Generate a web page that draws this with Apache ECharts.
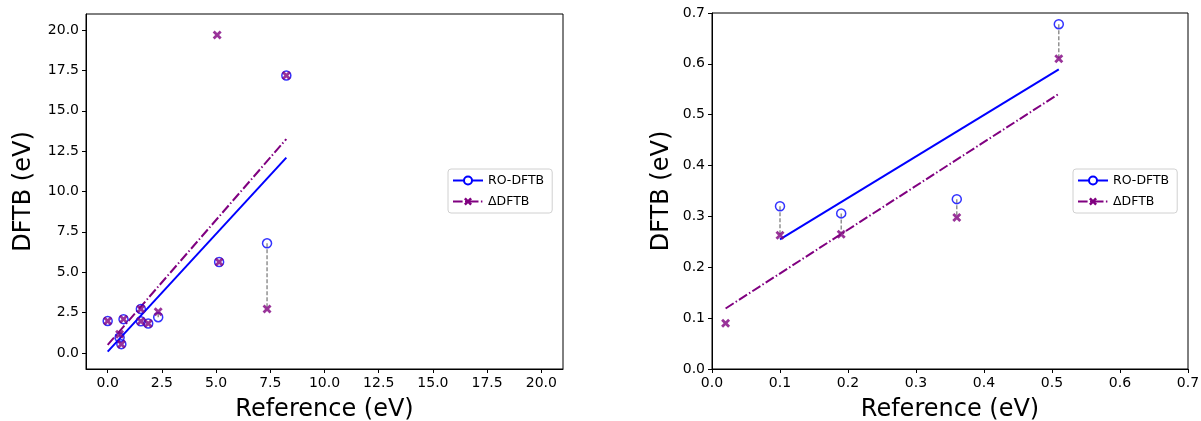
<!DOCTYPE html>
<html>
<head>
<meta charset="utf-8">
<script src="https://cdn.jsdelivr.net/npm/echarts@6/dist/echarts.min.js"></script>
<style>
  html, body { margin: 0; padding: 0; background: #fff; }
  #chart { width: 1201px; height: 421px; }
</style>
</head>
<body>
<div id="chart"></div>
<script>
// left panel: all excitations
const leftRef   = [0.0, 0.55, 0.63, 0.73, 1.53, 1.53, 1.87, 2.33, 5.05, 5.14, 7.35, 8.24];
const leftRO    = [1.98, 0.95, 0.54, 2.09, 2.72, 1.96, 1.82, 2.21, null, 5.63, 6.79, 17.19];
const leftDelta = [1.98, 1.15, 0.54, 2.09, 2.72, 1.96, 1.82, 2.55, 19.7, 5.63, 2.72, 17.19];
const leftFitX      = [0.0, 8.24];
const leftFitRO     = [0.08, 12.1];
const leftFitDelta  = [0.5, 13.25];
const leftTicks = [0, 2.5, 5, 7.5, 10, 12.5, 15, 17.5, 20];

// right panel: low-energy excitations
const rightRef   = [0.02, 0.10, 0.19, 0.36, 0.51];
const rightRO    = [null, 0.32, 0.306, 0.334, 0.678];
const rightDelta = [0.09, 0.263, 0.265, 0.298, 0.610];
const rightFitROX     = [0.10, 0.51];
const rightFitRO      = [0.255, 0.589];
const rightFitDeltaX  = [0.02, 0.51];
const rightFitDelta   = [0.119, 0.541];

const BLUE = '#0000ff';
const PURPLE = '#800080';
const FONT = 'DejaVu Sans';
const crossPath = 'path://M0,2.2L2.2,0L5,2.8L7.8,0L10,2.2L7.2,5L10,7.8L7.8,10L5,7.2L2.2,10L0,7.8L2.8,5Z';
const dashDot = [9.6, 2.4, 1.5, 2.4];

const zip = (xs, ys) => xs.map((x, i) => [x, ys[i]]).filter(p => p[1] !== null);

function panelSeries(idx, ref, ro, delta, roFitX, roFitY, dFitX, dFitY) {
  const out = [];
  // fit lines first so the legend takes its icons from them
  out.push({
    name: 'RO-DFTB', type: 'line', xAxisIndex: idx, yAxisIndex: idx,
    data: zip(roFitX, roFitY), symbol: 'emptyCircle', showSymbol: false, z: 2,
    itemStyle: { color: BLUE }, lineStyle: { color: BLUE, width: 2 }, silent: true
  });
  out.push({
    name: '\u0394DFTB', type: 'line', xAxisIndex: idx, yAxisIndex: idx,
    data: zip(dFitX, dFitY), symbol: crossPath, showSymbol: false, z: 2,
    itemStyle: { color: PURPLE }, lineStyle: { color: PURPLE, width: 2, type: dashDot }, silent: true
  });
  // grey connectors between the two methods
  ref.forEach((x, i) => {
    if (ro[i] === null || Math.abs(ro[i] - delta[i]) < 1e-9) return;
    out.push({
      type: 'line', xAxisIndex: idx, yAxisIndex: idx, symbol: 'none', silent: true, z: 1,
      data: [[x, ro[i]], [x, delta[i]]],
      lineStyle: { color: '#808080', width: 1.3, type: [4, 2] }
    });
  });
  out.push({
    name: 'RO-DFTB', type: 'scatter', xAxisIndex: idx, yAxisIndex: idx, z: 3,
    data: zip(ref, ro), symbol: 'circle', symbolSize: 9,
    itemStyle: { color: 'rgba(0,0,0,0)', borderColor: BLUE, borderWidth: 1.5 }
  });
  out.push({
    name: '\u0394DFTB', type: 'scatter', xAxisIndex: idx, yAxisIndex: idx, z: 4,
    data: zip(ref, delta), symbol: crossPath, symbolSize: 9,
    itemStyle: { color: PURPLE }
  });
  return out;
}

function xAxis(idx, min, max, opts) {
  return Object.assign({
    type: 'value', gridIndex: idx, min: min, max: max,
    name: 'Reference (eV)', nameLocation: 'middle', nameGap: 29,
    nameTextStyle: { fontFamily: FONT, fontSize: 24, color: '#000' },
    axisLine: { show: true, onZero: false, lineStyle: { color: '#000', width: 1 } },
    axisTick: { show: true, length: 4, lineStyle: { color: '#000' } },
    axisLabel: { fontFamily: FONT, fontSize: 14, color: '#000', margin: 7, formatter: v => v.toFixed(1) },
    splitLine: { show: false }
  }, opts);
}
function yAxis(idx, min, max, gap, opts) {
  return Object.assign({
    type: 'value', gridIndex: idx, min: min, max: max,
    name: 'DFTB (eV)', nameLocation: 'middle', nameGap: gap,
    nameTextStyle: { fontFamily: FONT, fontSize: 24, color: '#000' },
    axisLine: { show: true, onZero: false, lineStyle: { color: '#000', width: 1 } },
    axisTick: { show: true, length: 4, lineStyle: { color: '#000' } },
    axisLabel: { fontFamily: FONT, fontSize: 14, color: '#000', margin: 7, formatter: v => v.toFixed(1) },
    splitLine: { show: false }
  }, opts);
}

function legend(left) {
  return {
    orient: 'vertical', left: left, top: 169,
    data: ['RO-DFTB', '\u0394DFTB'],
    itemWidth: 30, itemHeight: 10, itemGap: 8,
    padding: [5, 8, 5, 4],
    backgroundColor: '#fff', borderColor: '#d0d0d0', borderWidth: 1, borderRadius: 3,
    textStyle: { fontFamily: FONT, fontSize: 12.5, color: '#000' }
  };
}

const chart = echarts.init(document.getElementById('chart'));
chart.setOption({
  animation: false,
  grid: [
    { left: 86, top: 14, width: 477, height: 355, outerBoundsMode: 'none', show: true, borderColor: '#000', borderWidth: 1 },
    { left: 712, top: 13, width: 476, height: 356, outerBoundsMode: 'none', show: true, borderColor: '#000', borderWidth: 1 }
  ],
  legend: [legend(448), legend(1073)],
  xAxis: [
    xAxis(0, -1, 21, {
      axisTick: { show: true, length: 4, lineStyle: { color: '#000' }, customValues: leftTicks },
      axisLabel: { fontFamily: FONT, fontSize: 14, color: '#000', margin: 7, formatter: v => v.toFixed(1), customValues: leftTicks }
    }),
    xAxis(1, 0, 0.7, { interval: 0.1 })
  ],
  yAxis: [
    yAxis(0, -1, 21, 50, {
      axisTick: { show: true, length: 4, lineStyle: { color: '#000' }, customValues: leftTicks },
      axisLabel: { fontFamily: FONT, fontSize: 14, color: '#000', margin: 7, formatter: v => v.toFixed(1), customValues: leftTicks }
    }),
    yAxis(1, 0, 0.7, 38, { interval: 0.1 })
  ],
  series: [].concat(
    panelSeries(0, leftRef, leftRO, leftDelta, leftFitX, leftFitRO, leftFitX, leftFitDelta),
    panelSeries(1, rightRef, rightRO, rightDelta, rightFitROX, rightFitRO, rightFitDeltaX, rightFitDelta)
  )
});
</script>
</body>
</html>
